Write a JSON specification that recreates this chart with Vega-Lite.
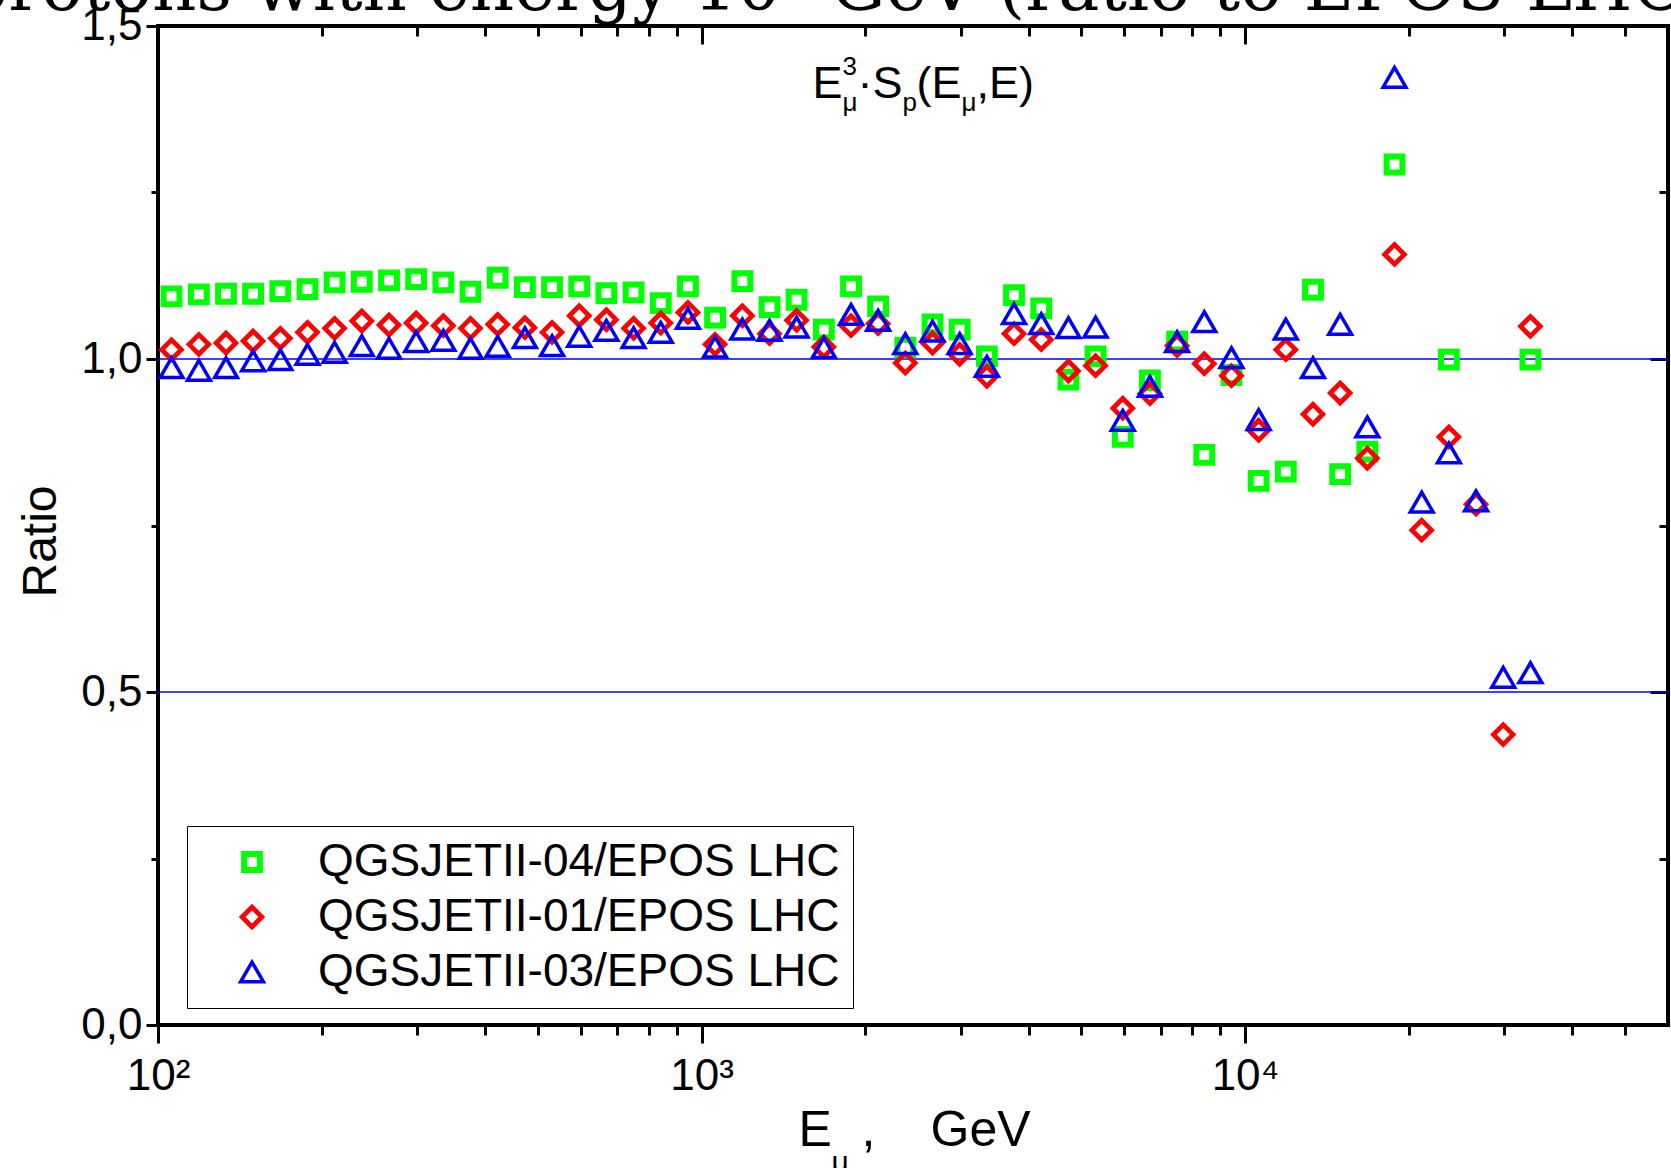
{
"$schema": "https://vega.github.io/schema/vega-lite/v6.json",
"autosize": {"type": "none"},
"padding": {"left": 158, "top": 26, "right": 3, "bottom": 143},
"width": 1510,
"height": 999,
"background": "white",
"config": {"view": {"stroke": "black", "strokeWidth": 4}, "font": "Liberation Sans"},
"datasets": {"pts": [
{"E":105.9,"model":"QGSJETII-04/EPOS LHC","ratio":1.094},
{"E":118.9,"model":"QGSJETII-04/EPOS LHC","ratio":1.097},
{"E":133.4,"model":"QGSJETII-04/EPOS LHC","ratio":1.098},
{"E":149.6,"model":"QGSJETII-04/EPOS LHC","ratio":1.098},
{"E":167.9,"model":"QGSJETII-04/EPOS LHC","ratio":1.102},
{"E":188.4,"model":"QGSJETII-04/EPOS LHC","ratio":1.105},
{"E":211.3,"model":"QGSJETII-04/EPOS LHC","ratio":1.115},
{"E":237.1,"model":"QGSJETII-04/EPOS LHC","ratio":1.116},
{"E":266.1,"model":"QGSJETII-04/EPOS LHC","ratio":1.118},
{"E":298.5,"model":"QGSJETII-04/EPOS LHC","ratio":1.120},
{"E":335.0,"model":"QGSJETII-04/EPOS LHC","ratio":1.115},
{"E":375.8,"model":"QGSJETII-04/EPOS LHC","ratio":1.101},
{"E":421.7,"model":"QGSJETII-04/EPOS LHC","ratio":1.122},
{"E":473.2,"model":"QGSJETII-04/EPOS LHC","ratio":1.108},
{"E":530.9,"model":"QGSJETII-04/EPOS LHC","ratio":1.108},
{"E":595.7,"model":"QGSJETII-04/EPOS LHC","ratio":1.109},
{"E":668.3,"model":"QGSJETII-04/EPOS LHC","ratio":1.099},
{"E":749.9,"model":"QGSJETII-04/EPOS LHC","ratio":1.100},
{"E":841.4,"model":"QGSJETII-04/EPOS LHC","ratio":1.084},
{"E":944.1,"model":"QGSJETII-04/EPOS LHC","ratio":1.109},
{"E":1059,"model":"QGSJETII-04/EPOS LHC","ratio":1.062},
{"E":1189,"model":"QGSJETII-04/EPOS LHC","ratio":1.117},
{"E":1334,"model":"QGSJETII-04/EPOS LHC","ratio":1.078},
{"E":1496,"model":"QGSJETII-04/EPOS LHC","ratio":1.089},
{"E":1679,"model":"QGSJETII-04/EPOS LHC","ratio":1.044},
{"E":1884,"model":"QGSJETII-04/EPOS LHC","ratio":1.109},
{"E":2113,"model":"QGSJETII-04/EPOS LHC","ratio":1.079},
{"E":2371,"model":"QGSJETII-04/EPOS LHC","ratio":1.017},
{"E":2661,"model":"QGSJETII-04/EPOS LHC","ratio":1.052},
{"E":2985,"model":"QGSJETII-04/EPOS LHC","ratio":1.044},
{"E":3350,"model":"QGSJETII-04/EPOS LHC","ratio":1.004},
{"E":3758,"model":"QGSJETII-04/EPOS LHC","ratio":1.096},
{"E":4217,"model":"QGSJETII-04/EPOS LHC","ratio":1.076},
{"E":4732,"model":"QGSJETII-04/EPOS LHC","ratio":0.969},
{"E":5309,"model":"QGSJETII-04/EPOS LHC","ratio":1.004},
{"E":5957,"model":"QGSJETII-04/EPOS LHC","ratio":0.883},
{"E":6683,"model":"QGSJETII-04/EPOS LHC","ratio":0.968},
{"E":7499,"model":"QGSJETII-04/EPOS LHC","ratio":1.026},
{"E":8414,"model":"QGSJETII-04/EPOS LHC","ratio":0.856},
{"E":9441,"model":"QGSJETII-04/EPOS LHC","ratio":0.976},
{"E":10593,"model":"QGSJETII-04/EPOS LHC","ratio":0.817},
{"E":11885,"model":"QGSJETII-04/EPOS LHC","ratio":0.831},
{"E":13335,"model":"QGSJETII-04/EPOS LHC","ratio":1.104},
{"E":14962,"model":"QGSJETII-04/EPOS LHC","ratio":0.827},
{"E":16788,"model":"QGSJETII-04/EPOS LHC","ratio":0.861},
{"E":18836,"model":"QGSJETII-04/EPOS LHC","ratio":1.292},
{"E":23714,"model":"QGSJETII-04/EPOS LHC","ratio":0.999},
{"E":33497,"model":"QGSJETII-04/EPOS LHC","ratio":0.999},
{"E":105.9,"model":"QGSJETII-01/EPOS LHC","ratio":1.014},
{"E":118.9,"model":"QGSJETII-01/EPOS LHC","ratio":1.022},
{"E":133.4,"model":"QGSJETII-01/EPOS LHC","ratio":1.024},
{"E":149.6,"model":"QGSJETII-01/EPOS LHC","ratio":1.027},
{"E":167.9,"model":"QGSJETII-01/EPOS LHC","ratio":1.031},
{"E":188.4,"model":"QGSJETII-01/EPOS LHC","ratio":1.040},
{"E":211.3,"model":"QGSJETII-01/EPOS LHC","ratio":1.046},
{"E":237.1,"model":"QGSJETII-01/EPOS LHC","ratio":1.057},
{"E":266.1,"model":"QGSJETII-01/EPOS LHC","ratio":1.051},
{"E":298.5,"model":"QGSJETII-01/EPOS LHC","ratio":1.054},
{"E":335.0,"model":"QGSJETII-01/EPOS LHC","ratio":1.050},
{"E":375.8,"model":"QGSJETII-01/EPOS LHC","ratio":1.046},
{"E":421.7,"model":"QGSJETII-01/EPOS LHC","ratio":1.052},
{"E":473.2,"model":"QGSJETII-01/EPOS LHC","ratio":1.047},
{"E":530.9,"model":"QGSJETII-01/EPOS LHC","ratio":1.040},
{"E":595.7,"model":"QGSJETII-01/EPOS LHC","ratio":1.065},
{"E":668.3,"model":"QGSJETII-01/EPOS LHC","ratio":1.059},
{"E":749.9,"model":"QGSJETII-01/EPOS LHC","ratio":1.046},
{"E":841.4,"model":"QGSJETII-01/EPOS LHC","ratio":1.054},
{"E":944.1,"model":"QGSJETII-01/EPOS LHC","ratio":1.070},
{"E":1059,"model":"QGSJETII-01/EPOS LHC","ratio":1.022},
{"E":1189,"model":"QGSJETII-01/EPOS LHC","ratio":1.065},
{"E":1334,"model":"QGSJETII-01/EPOS LHC","ratio":1.038},
{"E":1496,"model":"QGSJETII-01/EPOS LHC","ratio":1.058},
{"E":1679,"model":"QGSJETII-01/EPOS LHC","ratio":1.018},
{"E":1884,"model":"QGSJETII-01/EPOS LHC","ratio":1.050},
{"E":2113,"model":"QGSJETII-01/EPOS LHC","ratio":1.053},
{"E":2371,"model":"QGSJETII-01/EPOS LHC","ratio":0.994},
{"E":2661,"model":"QGSJETII-01/EPOS LHC","ratio":1.024},
{"E":2985,"model":"QGSJETII-01/EPOS LHC","ratio":1.007},
{"E":3350,"model":"QGSJETII-01/EPOS LHC","ratio":0.974},
{"E":3758,"model":"QGSJETII-01/EPOS LHC","ratio":1.038},
{"E":4217,"model":"QGSJETII-01/EPOS LHC","ratio":1.029},
{"E":4732,"model":"QGSJETII-01/EPOS LHC","ratio":0.982},
{"E":5309,"model":"QGSJETII-01/EPOS LHC","ratio":0.990},
{"E":5957,"model":"QGSJETII-01/EPOS LHC","ratio":0.926},
{"E":6683,"model":"QGSJETII-01/EPOS LHC","ratio":0.948},
{"E":7499,"model":"QGSJETII-01/EPOS LHC","ratio":1.020},
{"E":8414,"model":"QGSJETII-01/EPOS LHC","ratio":0.993},
{"E":9441,"model":"QGSJETII-01/EPOS LHC","ratio":0.975},
{"E":10593,"model":"QGSJETII-01/EPOS LHC","ratio":0.893},
{"E":11885,"model":"QGSJETII-01/EPOS LHC","ratio":1.014},
{"E":13335,"model":"QGSJETII-01/EPOS LHC","ratio":0.917},
{"E":14962,"model":"QGSJETII-01/EPOS LHC","ratio":0.949},
{"E":16788,"model":"QGSJETII-01/EPOS LHC","ratio":0.851},
{"E":18836,"model":"QGSJETII-01/EPOS LHC","ratio":1.157},
{"E":21135,"model":"QGSJETII-01/EPOS LHC","ratio":0.743},
{"E":23714,"model":"QGSJETII-01/EPOS LHC","ratio":0.883},
{"E":26607,"model":"QGSJETII-01/EPOS LHC","ratio":0.782},
{"E":29854,"model":"QGSJETII-01/EPOS LHC","ratio":0.436},
{"E":33497,"model":"QGSJETII-01/EPOS LHC","ratio":1.049},
{"E":105.9,"model":"QGSJETII-03/EPOS LHC","ratio":0.987},
{"E":118.9,"model":"QGSJETII-03/EPOS LHC","ratio":0.983},
{"E":133.4,"model":"QGSJETII-03/EPOS LHC","ratio":0.987},
{"E":149.6,"model":"QGSJETII-03/EPOS LHC","ratio":0.997},
{"E":167.9,"model":"QGSJETII-03/EPOS LHC","ratio":0.999},
{"E":188.4,"model":"QGSJETII-03/EPOS LHC","ratio":1.007},
{"E":211.3,"model":"QGSJETII-03/EPOS LHC","ratio":1.010},
{"E":237.1,"model":"QGSJETII-03/EPOS LHC","ratio":1.020},
{"E":266.1,"model":"QGSJETII-03/EPOS LHC","ratio":1.016},
{"E":298.5,"model":"QGSJETII-03/EPOS LHC","ratio":1.026},
{"E":335.0,"model":"QGSJETII-03/EPOS LHC","ratio":1.028},
{"E":375.8,"model":"QGSJETII-03/EPOS LHC","ratio":1.016},
{"E":421.7,"model":"QGSJETII-03/EPOS LHC","ratio":1.019},
{"E":473.2,"model":"QGSJETII-03/EPOS LHC","ratio":1.032},
{"E":530.9,"model":"QGSJETII-03/EPOS LHC","ratio":1.020},
{"E":595.7,"model":"QGSJETII-03/EPOS LHC","ratio":1.034},
{"E":668.3,"model":"QGSJETII-03/EPOS LHC","ratio":1.043},
{"E":749.9,"model":"QGSJETII-03/EPOS LHC","ratio":1.032},
{"E":841.4,"model":"QGSJETII-03/EPOS LHC","ratio":1.040},
{"E":944.1,"model":"QGSJETII-03/EPOS LHC","ratio":1.061},
{"E":1059,"model":"QGSJETII-03/EPOS LHC","ratio":1.018},
{"E":1189,"model":"QGSJETII-03/EPOS LHC","ratio":1.045},
{"E":1334,"model":"QGSJETII-03/EPOS LHC","ratio":1.043},
{"E":1496,"model":"QGSJETII-03/EPOS LHC","ratio":1.048},
{"E":1679,"model":"QGSJETII-03/EPOS LHC","ratio":1.017},
{"E":1884,"model":"QGSJETII-03/EPOS LHC","ratio":1.067},
{"E":2113,"model":"QGSJETII-03/EPOS LHC","ratio":1.058},
{"E":2371,"model":"QGSJETII-03/EPOS LHC","ratio":1.023},
{"E":2661,"model":"QGSJETII-03/EPOS LHC","ratio":1.042},
{"E":2985,"model":"QGSJETII-03/EPOS LHC","ratio":1.023},
{"E":3350,"model":"QGSJETII-03/EPOS LHC","ratio":0.989},
{"E":3758,"model":"QGSJETII-03/EPOS LHC","ratio":1.068},
{"E":4217,"model":"QGSJETII-03/EPOS LHC","ratio":1.053},
{"E":4732,"model":"QGSJETII-03/EPOS LHC","ratio":1.047},
{"E":5309,"model":"QGSJETII-03/EPOS LHC","ratio":1.048},
{"E":5957,"model":"QGSJETII-03/EPOS LHC","ratio":0.908},
{"E":6683,"model":"QGSJETII-03/EPOS LHC","ratio":0.959},
{"E":7499,"model":"QGSJETII-03/EPOS LHC","ratio":1.026},
{"E":8414,"model":"QGSJETII-03/EPOS LHC","ratio":1.056},
{"E":9441,"model":"QGSJETII-03/EPOS LHC","ratio":1.002},
{"E":10593,"model":"QGSJETII-03/EPOS LHC","ratio":0.909},
{"E":11885,"model":"QGSJETII-03/EPOS LHC","ratio":1.045},
{"E":13335,"model":"QGSJETII-03/EPOS LHC","ratio":0.987},
{"E":14962,"model":"QGSJETII-03/EPOS LHC","ratio":1.052},
{"E":16788,"model":"QGSJETII-03/EPOS LHC","ratio":0.898},
{"E":18836,"model":"QGSJETII-03/EPOS LHC","ratio":1.423},
{"E":21135,"model":"QGSJETII-03/EPOS LHC","ratio":0.785},
{"E":23714,"model":"QGSJETII-03/EPOS LHC","ratio":0.859},
{"E":26607,"model":"QGSJETII-03/EPOS LHC","ratio":0.787},
{"E":29854,"model":"QGSJETII-03/EPOS LHC","ratio":0.522},
{"E":33497,"model":"QGSJETII-03/EPOS LHC","ratio":0.529}
]},
"resolve": {"axis": {"x": "independent", "y": "independent"}},
"layer": [
{"data": {"values": [{}]}, "mark": {"type": "rule", "color": "#0000ff", "strokeWidth": 1.5},
 "encoding": {"y": {"datum": 1, "type": "quantitative", "scale": {"domain": [0, 1.5], "nice": false, "zero": false}, "axis": null}}},
{"data": {"values": [{}]}, "mark": {"type": "rule", "color": "#0000ff", "strokeWidth": 1.5},
 "encoding": {"y": {"datum": 0.5, "type": "quantitative", "scale": {"domain": [0, 1.5], "nice": false, "zero": false}, "axis": null}}},
{"data": {"name": "pts"},
 "mark": {"type": "point", "filled": false, "opacity": 1},
 "encoding": {
  "x": {"field": "E", "type": "quantitative", "scale": {"type": "log", "domain": [100, 60000], "nice": false},
   "axis": {"orient": "bottom", "values": [100,200,300,400,500,600,700,800,900,1000,2000,3000,4000,5000,6000,7000,8000,9000,10000,20000,30000,40000,50000],
    "labelExpr": "datum.value == 100 ? '10²' : datum.value == 1000 ? '10³' : datum.value == 10000 ? '10⁴' : ''",
    "tickSize": {"condition": {"test": "datum.value == 100 || datum.value == 1000 || datum.value == 10000", "value": 18}, "value": 10},
    "tickWidth": 3, "tickColor": "black", "domain": false, "grid": false, "labelFontSize": 44, "labelFont": "Liberation Sans", "labelColor": "black",
    "labelPadding": 11, "labelFlush": false, "labelOverlap": false, "labelBound": false, "title": null}},
  "y": {"field": "ratio", "type": "quantitative", "scale": {"domain": [0, 1.5], "nice": false, "zero": false},
   "axis": {"orient": "left", "values": [0, 0.25, 0.5, 0.75, 1, 1.25, 1.5],
    "labelExpr": "(datum.value == 0 || datum.value == 0.5 || datum.value == 1 || datum.value == 1.5) ? replace(format(datum.value, '.1f'), '.', ',') : ''",
    "tickSize": {"condition": {"test": "datum.value == 0 || datum.value == 0.5 || datum.value == 1 || datum.value == 1.5", "value": 12}, "value": 7},
    "tickWidth": 3, "tickColor": "black", "domain": false, "grid": false, "labelFontSize": 44, "labelFont": "Liberation Sans", "labelColor": "black",
    "labelPadding": 4, "labelFlush": false, "labelOverlap": false, "labelBound": false,
    "title": "Ratio", "titleFontSize": 48, "titleFont": "Liberation Sans", "titleFontWeight": "normal", "titleColor": "black",
    "titleX": -103, "titleY": 515, "titleAngle": -90, "titleBaseline": "alphabetic", "titleAlign": "center"}},
  "color": {"field": "model", "type": "nominal",
   "scale": {"domain": ["QGSJETII-04/EPOS LHC", "QGSJETII-01/EPOS LHC", "QGSJETII-03/EPOS LHC"], "range": ["#00ff00", "#ff0000", "#0000ff"]},
   "legend": {"orient": "none", "legendX": 29, "legendY": 800, "padding": 13, "strokeColor": "black",
    "title": null, "labelFontSize": 46, "labelFont": "Liberation Sans", "labelColor": "black", "labelLimit": 0,
    "symbolOffset": 29, "labelOffset": 43, "rowPadding": 9, "symbolStrokeWidth": 3.5, "fillColor": "white"}},
  "shape": {"field": "model", "type": "nominal",
   "scale": {"domain": ["QGSJETII-04/EPOS LHC", "QGSJETII-01/EPOS LHC", "QGSJETII-03/EPOS LHC"], "range": ["square", "diamond", "triangle-up"]}},
  "size": {"field": "model", "type": "nominal",
   "scale": {"domain": ["QGSJETII-04/EPOS LHC", "QGSJETII-01/EPOS LHC", "QGSJETII-03/EPOS LHC"], "range": [250, 520, 490]}},
  "strokeWidth": {"field": "model", "type": "nominal",
   "scale": {"domain": ["QGSJETII-04/EPOS LHC", "QGSJETII-01/EPOS LHC", "QGSJETII-03/EPOS LHC"], "range": [6, 3.5, 3.5]}, "legend": null}
 }},
{"data": {"name": "pts"},
 "mark": {"type": "point", "opacity": 0},
 "encoding": {
  "x": {"field": "E", "type": "quantitative", "scale": {"type": "log", "domain": [100, 60000], "nice": false},
   "axis": {"orient": "top", "values": [100,200,300,400,500,600,700,800,900,1000,2000,3000,4000,5000,6000,7000,8000,9000,10000,20000,30000,40000,50000],
    "labels": false, "tickSize": {"condition": {"test": "datum.value == 100 || datum.value == 1000 || datum.value == 10000", "value": -18}, "value": -10},
    "tickWidth": 3, "tickColor": "black", "domain": false, "grid": false, "title": null}},
  "y": {"field": "ratio", "type": "quantitative", "scale": {"domain": [0, 1.5], "nice": false, "zero": false},
   "axis": {"orient": "right", "values": [0, 0.25, 0.5, 0.75, 1, 1.25, 1.5], "labels": false,
    "tickSize": {"condition": {"test": "datum.value == 0 || datum.value == 0.5 || datum.value == 1 || datum.value == 1.5", "value": -18}, "value": -9},
    "tickWidth": 3, "tickColor": "black", "domain": false, "grid": false, "title": null}}
 }},
{"data": {"values": [{}]}, "mark": {"type": "text", "text": "protons with energy 10⁵ GeV (ratio to EPOS LHC)", "font": "DejaVu Serif", "fontSize": 69, "align": "left", "baseline": "alphabetic", "dx": -194, "dy": -16, "color": "black"},
 "encoding": {"x": {"datum": 100, "type": "quantitative", "scale": {"type": "log", "domain": [100, 60000], "nice": false}, "axis": null},
  "y": {"datum": 1.5, "type": "quantitative", "scale": {"domain": [0, 1.5], "nice": false, "zero": false}, "axis": null}}},
{"data": {"values": [{}]}, "mark": {"type": "text", "text": "E", "fontSize": 45, "align": "left", "baseline": "alphabetic", "dx": 0, "color": "black"},
 "encoding": {"x": {"datum": 1600, "type": "quantitative", "scale": {"type": "log", "domain": [100, 60000], "nice": false}, "axis": null},
  "y": {"datum": 1.392, "type": "quantitative", "scale": {"domain": [0, 1.5], "nice": false, "zero": false}, "axis": null}}},
{"data": {"values": [{}]}, "mark": {"type": "text", "text": "3", "fontSize": 26, "align": "left", "baseline": "alphabetic", "dx": 30, "dy": -23, "color": "black"},
 "encoding": {"x": {"datum": 1600, "type": "quantitative", "scale": {"type": "log", "domain": [100, 60000], "nice": false}, "axis": null},
  "y": {"datum": 1.392, "type": "quantitative", "scale": {"domain": [0, 1.5], "nice": false, "zero": false}, "axis": null}}},
{"data": {"values": [{}]}, "mark": {"type": "text", "text": "μ", "fontSize": 26, "align": "left", "baseline": "alphabetic", "dx": 30, "dy": 13, "color": "black"},
 "encoding": {"x": {"datum": 1600, "type": "quantitative", "scale": {"type": "log", "domain": [100, 60000], "nice": false}, "axis": null},
  "y": {"datum": 1.392, "type": "quantitative", "scale": {"domain": [0, 1.5], "nice": false, "zero": false}, "axis": null}}},
{"data": {"values": [{}]}, "mark": {"type": "text", "text": "·S", "fontSize": 45, "align": "left", "baseline": "alphabetic", "dx": 45, "color": "black"},
 "encoding": {"x": {"datum": 1600, "type": "quantitative", "scale": {"type": "log", "domain": [100, 60000], "nice": false}, "axis": null},
  "y": {"datum": 1.392, "type": "quantitative", "scale": {"domain": [0, 1.5], "nice": false, "zero": false}, "axis": null}}},
{"data": {"values": [{}]}, "mark": {"type": "text", "text": "p", "fontSize": 26, "align": "left", "baseline": "alphabetic", "dx": 90, "dy": 13, "color": "black"},
 "encoding": {"x": {"datum": 1600, "type": "quantitative", "scale": {"type": "log", "domain": [100, 60000], "nice": false}, "axis": null},
  "y": {"datum": 1.392, "type": "quantitative", "scale": {"domain": [0, 1.5], "nice": false, "zero": false}, "axis": null}}},
{"data": {"values": [{}]}, "mark": {"type": "text", "text": "(E", "fontSize": 45, "align": "left", "baseline": "alphabetic", "dx": 104, "color": "black"},
 "encoding": {"x": {"datum": 1600, "type": "quantitative", "scale": {"type": "log", "domain": [100, 60000], "nice": false}, "axis": null},
  "y": {"datum": 1.392, "type": "quantitative", "scale": {"domain": [0, 1.5], "nice": false, "zero": false}, "axis": null}}},
{"data": {"values": [{}]}, "mark": {"type": "text", "text": "μ", "fontSize": 26, "align": "left", "baseline": "alphabetic", "dx": 149, "dy": 13, "color": "black"},
 "encoding": {"x": {"datum": 1600, "type": "quantitative", "scale": {"type": "log", "domain": [100, 60000], "nice": false}, "axis": null},
  "y": {"datum": 1.392, "type": "quantitative", "scale": {"domain": [0, 1.5], "nice": false, "zero": false}, "axis": null}}},
{"data": {"values": [{}]}, "mark": {"type": "text", "text": ",E)", "fontSize": 45, "align": "left", "baseline": "alphabetic", "dx": 164, "color": "black"},
 "encoding": {"x": {"datum": 1600, "type": "quantitative", "scale": {"type": "log", "domain": [100, 60000], "nice": false}, "axis": null},
  "y": {"datum": 1.392, "type": "quantitative", "scale": {"domain": [0, 1.5], "nice": false, "zero": false}, "axis": null}}},
{"data": {"values": [{}]}, "mark": {"type": "text", "text": "E", "fontSize": 50, "align": "left", "baseline": "alphabetic", "dx": 97, "dy": 121, "color": "black"},
 "encoding": {"x": {"datum": 1000, "type": "quantitative", "scale": {"type": "log", "domain": [100, 60000], "nice": false}, "axis": null},
  "y": {"datum": 0, "type": "quantitative", "scale": {"domain": [0, 1.5], "nice": false, "zero": false}, "axis": null}}},
{"data": {"values": [{}]}, "mark": {"type": "text", "text": "μ", "fontSize": 30, "align": "left", "baseline": "alphabetic", "dx": 130, "dy": 147, "color": "black"},
 "encoding": {"x": {"datum": 1000, "type": "quantitative", "scale": {"type": "log", "domain": [100, 60000], "nice": false}, "axis": null},
  "y": {"datum": 0, "type": "quantitative", "scale": {"domain": [0, 1.5], "nice": false, "zero": false}, "axis": null}}},
{"data": {"values": [{}]}, "mark": {"type": "text", "text": ",", "fontSize": 50, "align": "left", "baseline": "alphabetic", "dx": 160, "dy": 121, "color": "black"},
 "encoding": {"x": {"datum": 1000, "type": "quantitative", "scale": {"type": "log", "domain": [100, 60000], "nice": false}, "axis": null},
  "y": {"datum": 0, "type": "quantitative", "scale": {"domain": [0, 1.5], "nice": false, "zero": false}, "axis": null}}},
{"data": {"values": [{}]}, "mark": {"type": "text", "text": "GeV", "fontSize": 50, "align": "left", "baseline": "alphabetic", "dx": 229, "dy": 121, "color": "black"},
 "encoding": {"x": {"datum": 1000, "type": "quantitative", "scale": {"type": "log", "domain": [100, 60000], "nice": false}, "axis": null},
  "y": {"datum": 0, "type": "quantitative", "scale": {"domain": [0, 1.5], "nice": false, "zero": false}, "axis": null}}}
]
}
